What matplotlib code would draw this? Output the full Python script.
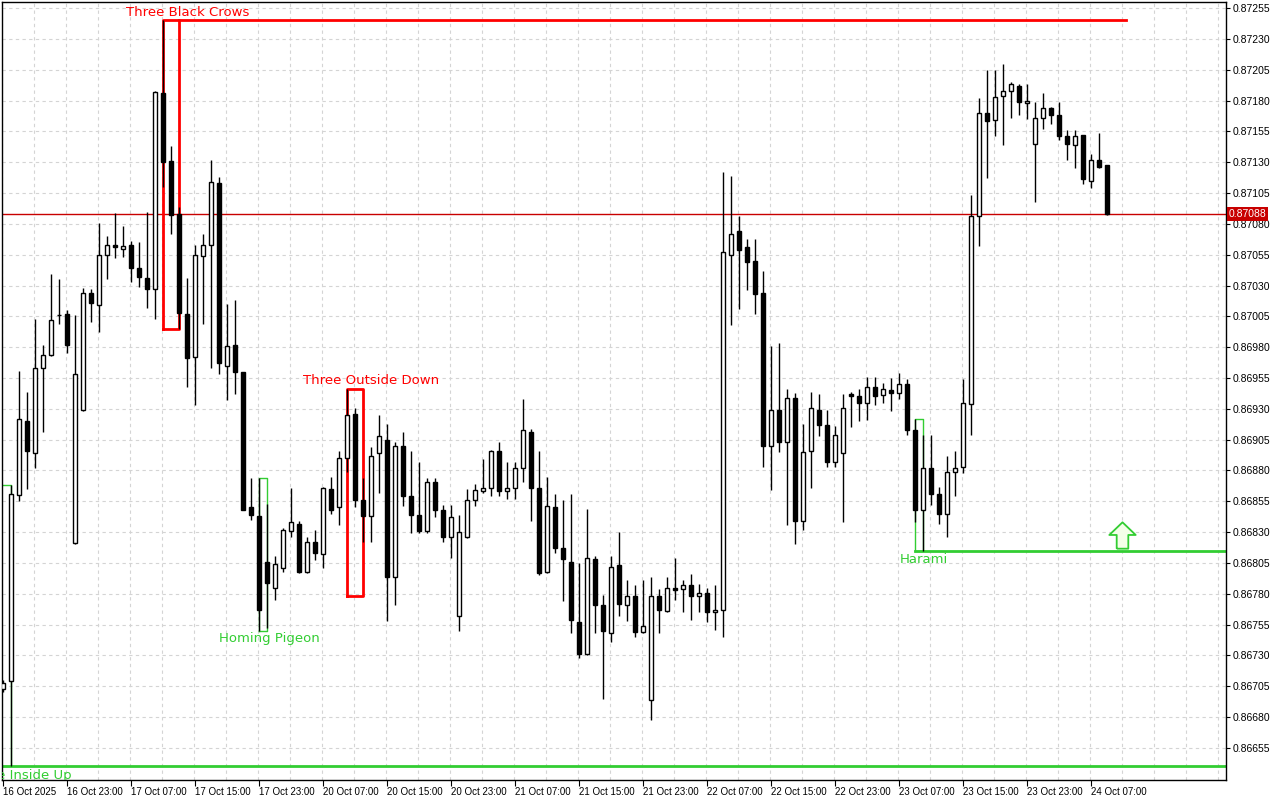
import numpy as np
import matplotlib.pyplot as plt
from matplotlib.path import Path
from matplotlib.transforms import blended_transform_factory

# hourly OHLC (index 0 = 16 Oct 15:00)
opens = [0.86703, 0.86709, 0.86860, 0.86920, 0.86894, 0.86963, 0.86974, 0.87006, 0.87007, 0.86821,
         0.86929, 0.87024, 0.87014, 0.87055, 0.87063, 0.87060, 0.87063, 0.87044, 0.87036, 0.87027,
         0.87186, 0.87131, 0.87088, 0.87007, 0.86972, 0.87054, 0.87063, 0.87113, 0.86965, 0.86982,
         0.86960, 0.86850, 0.86843, 0.86806, 0.86785, 0.86801, 0.86831, 0.86837, 0.86798, 0.86822,
         0.86812, 0.86865, 0.86850, 0.86890, 0.86926, 0.86856, 0.86843, 0.86894, 0.86905, 0.86794,
         0.86900, 0.86859, 0.86844, 0.86831, 0.86871, 0.86848, 0.86826, 0.86762, 0.86826, 0.86856,
         0.86863, 0.86866, 0.86896, 0.86863, 0.86866, 0.86882, 0.86911, 0.86866, 0.86798, 0.86850,
         0.86817, 0.86806, 0.86757, 0.86731, 0.86808, 0.86771, 0.86748, 0.86803, 0.86771, 0.86778,
         0.86749, 0.86694, 0.86778, 0.86766, 0.86785, 0.86784, 0.86787, 0.86778, 0.86781, 0.86765,
         0.86767, 0.87055, 0.87074, 0.87061, 0.87050, 0.87024, 0.86900, 0.86929, 0.86903, 0.86939,
         0.86839, 0.86896, 0.86929, 0.86917, 0.86887, 0.86894, 0.86942, 0.86940, 0.86935, 0.86948,
         0.86941, 0.86945, 0.86943, 0.86950, 0.86913, 0.86848, 0.86882, 0.86861, 0.86845, 0.86879,
         0.86883, 0.86934, 0.87086, 0.87170, 0.87164, 0.87184, 0.87188, 0.87192, 0.87178, 0.87145,
         0.87166, 0.87174, 0.87168, 0.87151, 0.87144, 0.87152, 0.87115, 0.87132, 0.87128]
highs = [0.86710, 0.86868, 0.86961, 0.86944, 0.87003, 0.86982, 0.87039, 0.87035, 0.87010, 0.87006,
         0.87028, 0.87027, 0.87081, 0.87070, 0.87089, 0.87078, 0.87066, 0.87065, 0.87090, 0.87188,
         0.87245, 0.87143, 0.87094, 0.87036, 0.87063, 0.87072, 0.87132, 0.87118, 0.87015, 0.87018,
         0.86960, 0.86874, 0.86874, 0.86853, 0.86811, 0.86833, 0.86866, 0.86839, 0.86826, 0.86832,
         0.86867, 0.86875, 0.86896, 0.86946, 0.86931, 0.86874, 0.86899, 0.86925, 0.86918, 0.86903,
         0.86911, 0.86896, 0.86887, 0.86874, 0.86874, 0.86852, 0.86852, 0.86844, 0.86865, 0.86869,
         0.86889, 0.86897, 0.86903, 0.86887, 0.86887, 0.86938, 0.86914, 0.86896, 0.86875, 0.86861,
         0.86856, 0.86861, 0.86805, 0.86849, 0.86811, 0.86779, 0.86811, 0.86830, 0.86791, 0.86787,
         0.86791, 0.86794, 0.86784, 0.86794, 0.86809, 0.86791, 0.86796, 0.86788, 0.86785, 0.86787,
         0.87122, 0.87119, 0.87086, 0.87068, 0.87068, 0.87042, 0.86981, 0.86983, 0.86946, 0.86943,
         0.86918, 0.86944, 0.86942, 0.86929, 0.86916, 0.86942, 0.86944, 0.86946, 0.86956, 0.86956,
         0.86951, 0.86955, 0.86959, 0.86954, 0.86922, 0.86909, 0.86909, 0.86867, 0.86892, 0.86896,
         0.86954, 0.87103, 0.87182, 0.87205, 0.87205, 0.87210, 0.87195, 0.87193, 0.87193, 0.87179,
         0.87186, 0.87175, 0.87179, 0.87156, 0.87156, 0.87152, 0.87137, 0.87154, 0.87128]
lows = [0.86700, 0.86640, 0.86855, 0.86865, 0.86882, 0.86911, 0.86973, 0.86999, 0.86975, 0.86820,
        0.86928, 0.87000, 0.86992, 0.87035, 0.87052, 0.87053, 0.87033, 0.87029, 0.87012, 0.87003,
        0.87110, 0.87072, 0.86995, 0.86948, 0.86933, 0.86999, 0.86963, 0.86958, 0.86937, 0.86942,
        0.86848, 0.86840, 0.86750, 0.86752, 0.86775, 0.86798, 0.86826, 0.86797, 0.86797, 0.86807,
        0.86801, 0.86845, 0.86836, 0.86879, 0.86850, 0.86822, 0.86822, 0.86862, 0.86758, 0.86771,
        0.86851, 0.86829, 0.86829, 0.86829, 0.86842, 0.86822, 0.86809, 0.86750, 0.86825, 0.86851,
        0.86862, 0.86859, 0.86859, 0.86857, 0.86857, 0.86871, 0.86839, 0.86795, 0.86797, 0.86813,
        0.86774, 0.86748, 0.86728, 0.86730, 0.86748, 0.86695, 0.86741, 0.86762, 0.86758, 0.86745,
        0.86748, 0.86678, 0.86748, 0.86765, 0.86775, 0.86765, 0.86759, 0.86765, 0.86757, 0.86751,
        0.86745, 0.86998, 0.87011, 0.87026, 0.87007, 0.86883, 0.86864, 0.86895, 0.86836, 0.86820,
        0.86832, 0.86866, 0.86908, 0.86883, 0.86883, 0.86838, 0.86915, 0.86920, 0.86921, 0.86933,
        0.86935, 0.86928, 0.86938, 0.86909, 0.86838, 0.86815, 0.86852, 0.86837, 0.86826, 0.86859,
        0.86878, 0.86909, 0.87062, 0.87117, 0.87151, 0.87144, 0.87166, 0.87168, 0.87165, 0.87098,
        0.87157, 0.87161, 0.87148, 0.87132, 0.87125, 0.87112, 0.87109, 0.87125, 0.87087]
closes = [0.86708, 0.86861, 0.86922, 0.86896, 0.86963, 0.86974, 0.87002, 0.87006, 0.86982, 0.86958,
          0.87024, 0.87016, 0.87055, 0.87063, 0.87061, 0.87062, 0.87044, 0.87037, 0.87027, 0.87187,
          0.87130, 0.87087, 0.87008, 0.86971, 0.87055, 0.87063, 0.87114, 0.86967, 0.86981, 0.86960,
          0.86848, 0.86844, 0.86767, 0.86789, 0.86804, 0.86832, 0.86838, 0.86798, 0.86822, 0.86813,
          0.86866, 0.86848, 0.86890, 0.86925, 0.86856, 0.86843, 0.86892, 0.86908, 0.86794, 0.86900,
          0.86859, 0.86844, 0.86831, 0.86871, 0.86848, 0.86826, 0.86842, 0.86830, 0.86856, 0.86864,
          0.86866, 0.86896, 0.86863, 0.86866, 0.86882, 0.86913, 0.86866, 0.86797, 0.86851, 0.86817,
          0.86808, 0.86759, 0.86731, 0.86809, 0.86771, 0.86750, 0.86802, 0.86772, 0.86778, 0.86749,
          0.86754, 0.86778, 0.86767, 0.86785, 0.86783, 0.86787, 0.86778, 0.86781, 0.86765, 0.86767,
          0.87057, 0.87072, 0.87059, 0.87049, 0.87023, 0.86900, 0.86929, 0.86903, 0.86939, 0.86839,
          0.86895, 0.86931, 0.86917, 0.86887, 0.86909, 0.86931, 0.86940, 0.86935, 0.86948, 0.86940,
          0.86946, 0.86943, 0.86950, 0.86913, 0.86848, 0.86882, 0.86861, 0.86845, 0.86879, 0.86882,
          0.86935, 0.87086, 0.87170, 0.87163, 0.87183, 0.87188, 0.87193, 0.87179, 0.87180, 0.87166,
          0.87174, 0.87168, 0.87151, 0.87145, 0.87151, 0.87116, 0.87132, 0.87126, 0.87088]

last_price = 0.87088

time_ticks = [0, 8, 16, 24, 32, 40, 48, 56, 64, 72, 80, 88, 96, 104, 112, 120, 128, 136]
time_labels = ["16 Oct 2025", "16 Oct 23:00", "17 Oct 07:00", "17 Oct 15:00", "17 Oct 23:00",
               "20 Oct 07:00", "20 Oct 15:00", "20 Oct 23:00", "21 Oct 07:00", "21 Oct 15:00",
               "21 Oct 23:00", "22 Oct 07:00", "22 Oct 15:00", "22 Oct 23:00", "23 Oct 07:00",
               "23 Oct 15:00", "23 Oct 23:00", "24 Oct 07:00"]
price_ticks = [0.86655, 0.86680, 0.86705, 0.86730, 0.86755, 0.86780, 0.86805, 0.86830, 0.86855,
               0.86880, 0.86905, 0.86930, 0.86955, 0.86980, 0.87005, 0.87030, 0.87055, 0.87080,
               0.87105, 0.87130, 0.87155, 0.87180, 0.87205, 0.87230, 0.87255]

RED = '#FF0000'
GREEN = '#32CD32'
LABEL_FONT = 'Liberation Sans'

o, h, l, c = map(np.array, (opens, highs, lows, closes))
x = np.arange(len(o))
up = c >= o

fig = plt.figure(figsize=(12.8, 8), dpi=100)
ax = fig.add_axes([2 / 1280, 20 / 800, 1224 / 1280, 778 / 800])

ax.set_xlim(-0.16, 152.84)
ax.set_ylim(0.86629, 0.872599)

# dashed grid
for p in price_ticks:
    ax.axhline(p, color='#d4d4d4', lw=0.8, ls=(0, (3, 3)), zorder=0)
for k in range(0, 153, 4):
    ax.axvline(k - 0.13, color='#d4d4d4', lw=0.8, ls=(0, (3, 3)), zorder=0)

# candles
ax.vlines(x, l, h, color='black', lw=1, zorder=3)
bw = 0.55
body_up = np.maximum((c - o)[up], 0.000003)
body_dn = np.maximum((o - c)[~up], 0.000003)
ax.bar(x[up], body_up, bottom=o[up], width=bw, color='white', edgecolor='black', lw=1, zorder=4)
ax.bar(x[~up], body_dn, bottom=c[~up], width=bw, color='black', edgecolor='black', lw=1, zorder=4)

# last price line + label
ax.axhline(last_price, color='#C80000', lw=1, zorder=2)
tr = blended_transform_factory(ax.transAxes, ax.transData)
ax.text(1.0025, last_price, f'{last_price:.5f}', transform=tr, color='white', fontsize=7.5,
        family=LABEL_FONT, va='center', ha='left', clip_on=False, zorder=10,
        bbox=dict(boxstyle='square,pad=0.15', fc='#C80000', ec='none'))


def box(i0, i1, top, bottom, color, lw, z=2):
    ax.plot([i0, i0, i1, i1, i0], [bottom, top, top, bottom, bottom], color=color, lw=lw, zorder=z)


TXT = 9.5

# Three Black Crows (candles 20-22)
tbc_top, tbc_bot = max(highs[20:23]), min(lows[20:23])
box(20, 22, tbc_top, tbc_bot, RED, 2)
ax.plot([22, 140.3], [tbc_top, tbc_top], color=RED, lw=2, zorder=2)
ax.text(23.1, 0.87251, 'Three Black Crows', color=RED, fontsize=TXT, ha='center', va='center')

# Three Outside Down (candles 43-45)
box(43, 45, max(highs[43:46]), 0.86778, RED, 2)
ax.text(46.0, 0.86953, 'Three Outside Down', color=RED, fontsize=TXT, ha='center', va='center')

# Homing Pigeon (candles 32-33)
box(32, 33, max(highs[32:34]), min(lows[32:34]), GREEN, 1)
ax.text(33.2, 0.86744, 'Homing Pigeon', color=GREEN, fontsize=TXT, ha='center', va='center')

# Harami (candles 114-115)
har_top, har_bot = max(highs[114:116]), min(lows[114:116])
box(114, 115, har_top, har_bot, GREEN, 1)
ax.plot([114, 160], [har_bot, har_bot], color=GREEN, lw=2, zorder=2)
ax.text(115.1, 0.86808, 'Harami', color=GREEN, fontsize=TXT, ha='center', va='center')

# hollow up arrow
arrow = Path([(-0.22, -0.5), (0.22, -0.5), (0.22, 0.02), (0.5, 0.02), (0.0, 0.5),
              (-0.5, 0.02), (-0.22, 0.02), (-0.22, -0.5)])
ax.plot([139.8], [0.86828], marker=arrow, markersize=19, mfc='#f4ffe8', mec=GREEN, mew=1.3,
        ls='none', zorder=6)

# Three Inside Up (candles -1..1), label clipped at the left edge as in the terminal
tiu_top, tiu_bot = max(highs[0:2]), min(lows[0:2])
box(-1, 1, tiu_top, tiu_bot, GREEN, 1)
ax.plot([-1, 160], [tiu_bot, tiu_bot], color=GREEN, lw=2, zorder=2)
ax.text(8.6, 0.86633, 'Three Inside Up', color=GREEN, fontsize=TXT, ha='right', va='center',
        clip_on=True)

# axes styling
ax.yaxis.tick_right()
ax.set_yticks(price_ticks)
ax.set_yticklabels([f'{p:.5f}' for p in price_ticks], family=LABEL_FONT)
ax.set_xticks(time_ticks)
ax.set_xticklabels(time_labels, ha='left', family=LABEL_FONT)
ax.tick_params(axis='y', labelsize=7.5, length=3, pad=2, width=0.8)
ax.tick_params(axis='x', labelsize=7, length=4, pad=1, width=0.8)
for s in ax.spines.values():
    s.set_color('black')
    s.set_linewidth(1)

fig.savefig('out.png', dpi=100, facecolor='white')
